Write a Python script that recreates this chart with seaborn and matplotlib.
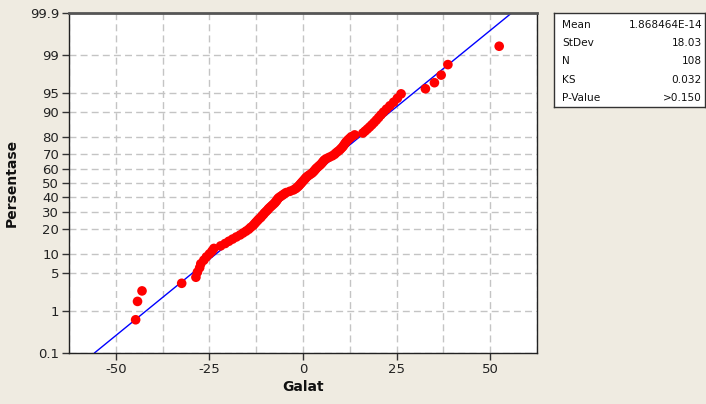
import numpy as np
import pandas as pd
import matplotlib
matplotlib.use("Agg")
import matplotlib.pyplot as plt
import seaborn as sns
from matplotlib.ticker import FixedLocator, MultipleLocator, NullFormatter
from statistics import NormalDist

# ---- data (sorted residuals, "Galat") ----
residuals = [
    -44.7, -44.2, -43.0, -32.4, -28.6, -28.2, -27.6, -27.3, -26.5, -25.8,
    -25.0, -24.3, -23.8, -22.0, -20.8, -19.8, -18.8, -17.8, -16.8, -16.0,
    -15.2, -14.5, -14.0, -13.4, -13.0, -12.6, -12.2, -11.8, -11.3, -11.0,
    -10.6, -10.3, -9.9, -9.5, -9.2, -8.8, -8.4, -8.0, -7.6, -7.3,
    -7.0, -6.8, -6.5, -6.0, -5.5, -5.0, -4.5, -3.5, -2.6, -2.0,
    -1.6, -1.2, -0.9, -0.6, -0.3, 0.0, 0.3, 0.6, 0.9, 1.3,
    1.8, 2.3, 2.7, 3.0, 3.3, 3.6, 4.0, 4.4, 4.8, 5.1,
    5.4, 5.7, 6.2, 7.0, 7.8, 8.4, 8.8, 9.3, 9.8, 10.2,
    10.6, 10.9, 11.2, 11.5, 11.9, 12.4, 12.9, 13.8, 16.0, 16.6,
    17.2, 17.8, 18.4, 19.0, 19.6, 20.2, 20.8, 21.5, 22.3, 23.2,
    24.2, 25.2, 26.2, 32.7, 35.1, 36.9, 38.7, 52.4,
]
y_ticks = [0.1, 1, 5, 10, 20, 30, 40, 50, 60, 70, 80, 90, 95, 99, 99.9]
y_tick_labels = ["0.1", "1", "5", "10", "20", "30", "40", "50", "60",
                 "70", "80", "90", "95", "99", "99.9"]
x_ticks = [-50, -25, 0, 25, 50]
x_tick_labels = ["-50", "-25", "0", "25", "50"]
stat_names = ["Mean", "StDev", "N", "KS", "P-Value"]
stat_values = ["1.868464E-14", "18.03", "108", "0.032", ">0.150"]
fit_mean = 1.868464e-14
fit_sd = 18.03

# ---- normal probability scale ----
_nd = NormalDist()
_ppf = np.vectorize(_nd.inv_cdf, otypes=[float])
_cdf = np.vectorize(_nd.cdf, otypes=[float])


def fwd(p):
    p = np.clip(np.asarray(p, dtype=float) / 100.0, 1e-12, 1 - 1e-12)
    return _ppf(p)


def inv(z):
    return _cdf(np.asarray(z, dtype=float)) * 100.0


n = len(residuals)
ranks = np.arange(1, n + 1)
pct = (ranks - 0.3) / (n + 0.4) * 100.0  # median-rank plotting positions
df = pd.DataFrame({"Galat": np.sort(residuals), "Persentase": pct})

line_pct = np.array([0.1, 99.9])
line_x = fit_mean + fit_sd * fwd(line_pct)

sns.set_style("white")
plt.rcParams["font.family"] = ["DejaVu Sans"]

bg = "#efebe1"
fig = plt.figure(figsize=(7.06, 4.04), dpi=100, facecolor=bg)
ax = fig.add_axes([69 / 706, (404 - 353) / 404, (537 - 69) / 706, (353 - 13) / 404])
ax.set_facecolor("white")

sns.lineplot(x=line_x, y=line_pct, color="#0000ff", lw=1.0, ax=ax,
             estimator=None, sort=False, zorder=2)
sns.scatterplot(data=df, x="Galat", y="Persentase", color="#ff0000", s=48,
                edgecolor="none", linewidth=0, ax=ax, zorder=3)

ax.set_yscale("function", functions=(fwd, inv))
ax.set_ylim(0.1, 99.9)
ax.set_xlim(-62.5, 62.5)

ax.yaxis.set_major_locator(FixedLocator(y_ticks))
ax.set_yticklabels(y_tick_labels)
ax.yaxis.set_minor_locator(FixedLocator([]))
ax.set_xticks(x_ticks)
ax.set_xticklabels(x_tick_labels)
ax.xaxis.set_minor_locator(MultipleLocator(12.5))
ax.xaxis.set_minor_formatter(NullFormatter())

grid_kw = dict(color="#c4c4c4", linestyle=(0, (5, 3)), linewidth=1.0)
ax.grid(True, which="major", axis="both", **grid_kw)
ax.grid(True, which="minor", axis="x", **grid_kw)
ax.set_axisbelow(True)

ax.tick_params(axis="both", which="major", direction="out", length=5, width=1,
               color="#333333", labelsize=9.5, labelcolor="#222222", pad=2,
               left=True, bottom=True)
ax.tick_params(axis="x", which="minor", length=0)

for side, sp in ax.spines.items():
    sp.set_visible(True)
    sp.set_color("#222222")
    sp.set_linewidth(1.0)
ax.spines["top"].set_color("#555555")
ax.spines["top"].set_linewidth(2.0)

ax.set_xlabel("Galat", fontsize=10, fontweight="bold", labelpad=3, color="#111111")
ax.set_ylabel("Persentase", fontsize=10, fontweight="bold", labelpad=8, color="#111111")

# ---- stats box ----
bx0, bx1, by0, by1 = 554, 705, 13, 107
box = fig.add_axes([bx0 / 706, 1 - by1 / 404, (bx1 - bx0) / 706, (by1 - by0) / 404])
box.set_facecolor("white")
box.set_xticks([])
box.set_yticks([])
for sp in box.spines.values():
    sp.set_visible(True)
    sp.set_color("#333333")
    sp.set_linewidth(1.0)
row_y = [25, 43, 61, 80, 98]
for name, val, yy in zip(stat_names, stat_values, row_y):
    fig.text(562 / 706, 1 - yy / 404, name, ha="left", va="center",
             fontsize=7.6, color="#111111")
    fig.text(702 / 706, 1 - yy / 404, val, ha="right", va="center",
             fontsize=7.6, color="#111111")

fig.savefig("out.png", dpi=100, facecolor=bg)
